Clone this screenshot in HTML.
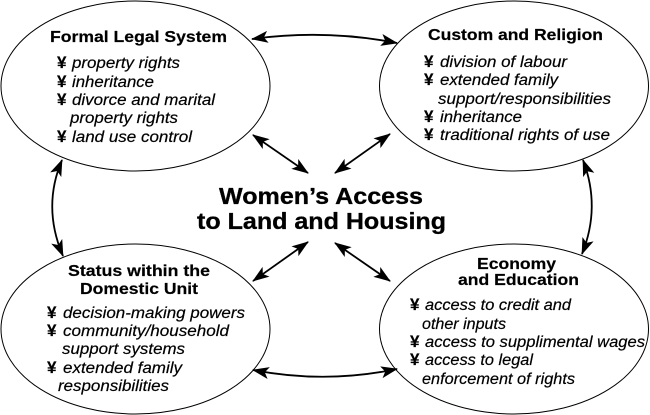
<!DOCTYPE html>
<html><head><meta charset="utf-8"><style>
html,body{margin:0;padding:0;background:#fff}
svg{display:block}
text{font-family:"Liberation Sans",Arial,sans-serif;fill:#000;stroke:#000;stroke-width:.2}
.t{font-weight:bold;font-size:16px}
.i{font-style:italic;font-size:15.5px}
.y{font-size:17px;font-weight:bold}
.c{font-weight:bold;font-size:23px;stroke-width:.3}
</style></head><body>
<svg width="650" height="415" viewBox="0 0 650 415" xmlns="http://www.w3.org/2000/svg">
<defs>
<marker id="a" viewBox="0 0 17 12" refX="16" refY="6" markerWidth="17" markerHeight="12" markerUnits="userSpaceOnUse" orient="auto-start-reverse"><path d="M0 0L17 6L0 12L4 6Z" fill="#000"/></marker>
</defs>
<g fill="#fff" stroke="#000" stroke-width="1">
<ellipse cx="135.5" cy="86" rx="134.5" ry="85"/>
<ellipse cx="514" cy="86" rx="134.5" ry="85"/>
<ellipse cx="135.5" cy="329" rx="134.5" ry="85"/>
<ellipse cx="514" cy="329" rx="134.5" ry="85"/>
</g>
<g fill="none" stroke="#000" stroke-width="1.8">
<path d="M252 39Q325 29 397 43" marker-start="url(#a)" marker-end="url(#a)"/>
<path d="M62 160Q42 207 63 256" marker-start="url(#a)" marker-end="url(#a)"/>
<path d="M583 160Q601 207 582 254" marker-start="url(#a)" marker-end="url(#a)"/>
<path d="M253 370Q325 384 397 369" marker-start="url(#a)" marker-end="url(#a)"/>
<path d="M253 135L308 173" marker-start="url(#a)" marker-end="url(#a)"/>
<path d="M390 134L335 173" marker-start="url(#a)" marker-end="url(#a)"/>
<path d="M253 281L308 242" marker-start="url(#a)" marker-end="url(#a)"/>
<path d="M390 281L335 243" marker-start="url(#a)" marker-end="url(#a)"/>
</g>
<text class="c" x="219" y="204" textLength="204" lengthAdjust="spacingAndGlyphs">Women’s Access</text>
<text class="c" x="197" y="229" textLength="249" lengthAdjust="spacingAndGlyphs">to Land and Housing</text>

<text class="t" x="50" y="42" textLength="177" lengthAdjust="spacingAndGlyphs">Formal Legal System</text>
<text class="y" x="57" y="68">¥</text><text class="i" x="72" y="68" textLength="108" lengthAdjust="spacingAndGlyphs">property rights</text>
<text class="y" x="57" y="87">¥</text><text class="i" x="72" y="87" textLength="82" lengthAdjust="spacingAndGlyphs">inheritance</text>
<text class="y" x="57" y="105">¥</text><text class="i" x="72" y="105" textLength="143" lengthAdjust="spacingAndGlyphs">divorce and marital</text>
<text class="i" x="70" y="123" textLength="108" lengthAdjust="spacingAndGlyphs">property rights</text>
<text class="y" x="57" y="142">¥</text><text class="i" x="72" y="142" textLength="120" lengthAdjust="spacingAndGlyphs">land use control</text>

<text class="t" x="428" y="40" textLength="175" lengthAdjust="spacingAndGlyphs">Custom and Religion</text>
<text class="y" x="424" y="67">¥</text><text class="i" x="440" y="67" textLength="127" lengthAdjust="spacingAndGlyphs">division of labour</text>
<text class="y" x="424" y="85">¥</text><text class="i" x="440" y="85" textLength="118" lengthAdjust="spacingAndGlyphs">extended family</text>
<text class="i" x="438" y="104" textLength="173" lengthAdjust="spacingAndGlyphs">support/responsibilities</text>
<text class="y" x="424" y="122">¥</text><text class="i" x="440" y="122" textLength="82" lengthAdjust="spacingAndGlyphs">inheritance</text>
<text class="y" x="424" y="140">¥</text><text class="i" x="440" y="140" textLength="170" lengthAdjust="spacingAndGlyphs">traditional rights of use</text>

<text class="t" x="68" y="276" textLength="142" lengthAdjust="spacingAndGlyphs">Status within the</text>
<text class="t" x="80" y="294" textLength="118" lengthAdjust="spacingAndGlyphs">Domestic Unit</text>
<text class="y" x="47" y="318">¥</text><text class="i" x="63" y="318" textLength="182" lengthAdjust="spacingAndGlyphs">decision-making powers</text>
<text class="y" x="47" y="336">¥</text><text class="i" x="63" y="336" textLength="166" lengthAdjust="spacingAndGlyphs">community/household</text>
<text class="i" x="62" y="354" textLength="123" lengthAdjust="spacingAndGlyphs">support systems</text>
<text class="y" x="47" y="373">¥</text><text class="i" x="63" y="373" textLength="119" lengthAdjust="spacingAndGlyphs">extended family</text>
<text class="i" x="58" y="391" textLength="111" lengthAdjust="spacingAndGlyphs">responsibilities</text>

<text class="t" x="477" y="269" textLength="79" lengthAdjust="spacingAndGlyphs">Economy</text>
<text class="t" x="458" y="285" textLength="121" lengthAdjust="spacingAndGlyphs">and Education</text>
<text class="y" x="410" y="310">¥</text><text class="i" x="425" y="310" textLength="146" lengthAdjust="spacingAndGlyphs">access to credit and</text>
<text class="i" x="422" y="329" textLength="84" lengthAdjust="spacingAndGlyphs">other inputs</text>
<text class="y" x="410" y="347">¥</text><text class="i" x="425" y="347" textLength="220" lengthAdjust="spacingAndGlyphs">access to supplimental wages</text>
<text class="y" x="410" y="365">¥</text><text class="i" x="425" y="365" textLength="108" lengthAdjust="spacingAndGlyphs">access to legal</text>
<text class="i" x="422" y="384" textLength="153" lengthAdjust="spacingAndGlyphs">enforcement of rights</text>
</svg>
</body></html>
